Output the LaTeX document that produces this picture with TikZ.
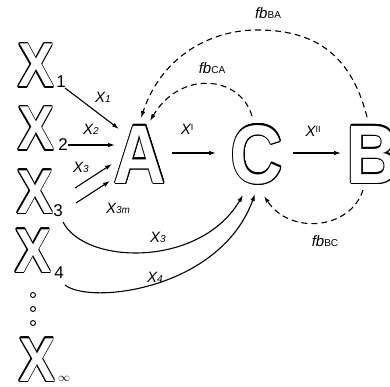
\documentclass[tikz,border=0pt]{standalone}
\usepackage{fontspec}
\setmainfont{Liberation Sans}
\usepackage{contour}
\contourlength{1.1pt}
\contournumber{24}
\usetikzlibrary{arrows.meta}
\newcommand\hol[2]{{\fontsize{#1}{#1}\selectfont\bfseries\scalebox{0.87}[1]{\contour{black}{\textcolor{white}{#2}}}}}
\newcommand\lx[2]{{\itshape X}{\fontsize{10}{10}\selectfont\itshape #2}}
\newcommand\fbl[1]{{\itshape fb}{\fontsize{10}{10}\selectfont #1}}
\begin{document}
\begin{tikzpicture}[x=1pt,y=-1pt,
  big/.style={anchor=base,inner sep=0pt},
  sub/.style={anchor=base,inner sep=0pt,font=\fontsize{17}{17}\selectfont},
  lab/.style={inner sep=0pt,font=\fontsize{15}{15}\selectfont},
  arr/.style={line width=1.1pt,-{Latex[length=7pt,width=4.5pt]}},
  fb/.style={arr,dash pattern=on 6pt off 4pt}]
\useasboundingbox (0,0) rectangle (390,387);
% big outlined letters
\node[big] (X1) at (36,87) {\hol{62}{X}};
\node[big] (X2) at (36,150) {\hol{62}{X}};
\node[big] (X3) at (35,213) {\hol{62}{X}};
\node[big] (X4) at (33,272) {\hol{62}{X}};
\node[big] (Xinf) at (37,381) {\hol{62}{X}};
\node[sub] (s1) at (61,88) {1};
\node[sub] (s2) at (63,151) {2};
\node[sub] (s3) at (58,216) {3};
\node[sub] (s4) at (59,278) {4};
\node[sub,font=\fontsize{12}{12}\selectfont] (sinf) at (64,381) {$\infty$};
\node[circle,draw,line width=0.9pt,inner sep=0pt,minimum size=5pt] (d1) at (33,295) {};
\node[circle,draw,line width=0.9pt,inner sep=0pt,minimum size=5pt] (d2) at (33,309) {};
\node[circle,draw,line width=0.9pt,inner sep=0pt,minimum size=5pt] (d3) at (33,323) {};
\node[big] (A) at (140,183) {\hol{83}{A}};
\node[big] (C) at (257,183) {\hol{83}{C}};
\node[big] (B) at (373,183) {\hol{83}{B}};
% endpoints
\coordinate (p1a) at (65,88);  \coordinate (p1b) at (119,129);
\coordinate (p2a) at (68,145); \coordinate (p2b) at (115,145);
\coordinate (p3a) at (75,188); \coordinate (p3b) at (112,164);
\coordinate (p4a) at (76,203); \coordinate (p4b) at (110,181);
\coordinate (ACa) at (172,153); \coordinate (ACb) at (216,153);
\coordinate (CBa) at (293,153); \coordinate (CBb) at (341,153);
\coordinate (c3a) at (63,222); \coordinate (c3b) at (243,195);
\coordinate (c4a) at (65,285); \coordinate (c4b) at (255,194);
\coordinate (bcA) at (363,190); \coordinate (bcB) at (264,196);
\coordinate (caA) at (252,116); \coordinate (caB) at (150,121);
\coordinate (baA) at (367,117); \coordinate (baM) at (257,30); \coordinate (baB) at (141,118);
% solid arrows
\draw[arr] (p1a) -- (p1b);
\draw[arr] (p2a) -- (p2b);
\draw[arr] (p3a) -- (p3b);
\draw[arr] (p4a) -- (p4b);
\draw[arr] (ACa) -- (ACb);
\draw[arr] (CBa) -- (CBb);
\draw[arr] (c3a) .. controls (85,265) and (200,268) .. (c3b);
\draw[arr] (c4a) .. controls (90,305) and (220,290) .. (c4b);
% feedback
\draw[fb] (bcA) .. controls (350,230) and (290,235) .. (bcB);
\draw[fb] (caA) .. controls (240,75) and (180,70) .. (caB);
\draw[fb] (baA) .. controls (350,50) and (310,30) .. (baM) .. controls (212,30) and (162,55) .. (baB);
% labels
\node[lab] (l1) at (103,97) {\lx{X}{1}};
\node[lab] (l2) at (91,129) {\lx{X}{2}};
\node[lab] (l3) at (81,167) {\lx{X}{3}};
\node[lab] (l3m) at (118,208) {\lx{X}{3m}};
\node[lab] (l3c) at (158,237) {\lx{X}{3}};
\node[lab] (l4c) at (155,277) {\lx{X}{4}};
\node[lab] (lI) at (187,129) {{\itshape X}\raisebox{4pt}{\fontsize{9}{9}\selectfont I}};
\node[lab] (lII) at (313,131) {{\itshape X}\raisebox{4pt}{\fontsize{9}{9}\selectfont II}};
\node[lab] (fCA) at (212,68) {\fbl{CA}};
\node[lab] (fBA) at (268,13) {\fbl{BA}};
\node[lab] (fBC) at (325,241) {\fbl{BC}};
\end{tikzpicture}
\end{document}
